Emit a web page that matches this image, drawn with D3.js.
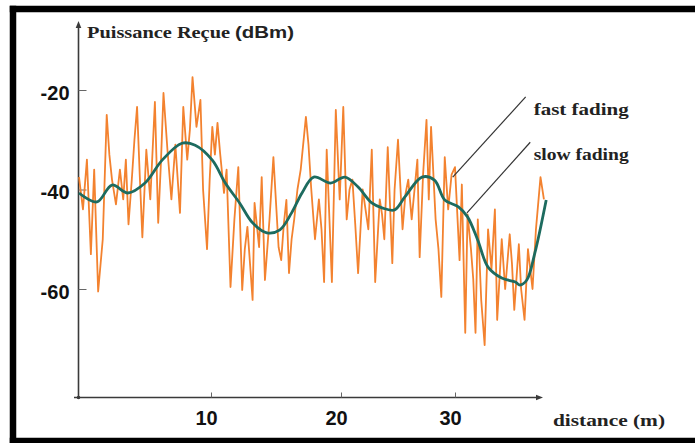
<!DOCTYPE html>
<html>
<head>
<meta charset="utf-8">
<script src="https://cdn.jsdelivr.net/npm/d3@7"></script>
<style>
  body { margin: 0; background: #fff; overflow: hidden; }
  svg { display: block; }
</style>
</head>
<body>
<div id="chart"></div>
<script>
// distance (m) and received power (dBm)
var fastDist = [0,0.3,0.6,0.9,1.15,1.45,1.8,2.1,2.3,2.5,2.8,3.1,3.35,3.55,3.75,4.0,4.2,4.4,4.6,4.8,5.1,5.4,5.75,6.0,6.2,6.4,6.7,7.0,7.3,7.65,7.9,8.2,8.4,8.6,8.9,9.2,9.4,9.7,9.9,
  10.1,10.3,10.5,10.7,11.0,11.2,11.5,11.8,12.1,12.4,12.6,12.8,13.2,13.35,13.7,13.9,14.15,14.5,14.8,15.2,15.4,15.6,15.8,16.0,16.2,16.4,16.65,16.9,17.3,17.5,17.7,18.0,18.3,18.5,18.7,18.9,19.3,19.6,19.9,
  20.2,20.5,20.75,21.0,21.25,21.5,21.9,22.15,22.4,22.7,23.0,23.4,23.6,23.8,24.1,24.5,24.7,25.0,25.4,25.65,25.9,26.2,26.45,26.7,26.9,27.2,27.5,27.7,27.9,28.3,28.55,28.8,29.1,29.4,29.7,
  30.0,30.4,30.6,30.9,31.1,31.4,31.6,31.8,32.0,32.3,32.6,32.9,33.2,33.5,33.7,34.1,34.4,34.8,35.0,35.2,35.6,35.8,36.1,36.4,36.8,37.1,37.5,37.8];
var fastDbm = [-37.5,-44,-34,-53,-36,-60.5,-50,-25,-33,-38,-43,-36,-42,-34,-47,-38,-30,-23.4,-37,-49.6,-32,-42,-22.4,-46.7,-35,-20.6,-32,-42,-31,-44.7,-23.4,-34,-28,-17.4,-27.4,-22,-40,-52,-38,
  -27.4,-33,-26.6,-32.7,-40.7,-36,-59.6,-46,-35.5,-60.2,-52,-47.5,-62.2,-42.7,-51.6,-37.5,-58.2,-46,-33.5,-51.6,-54.2,-47,-42.1,-56.8,-50,-46,-40,-36,-25.4,-31,-39.5,-50,-42,-48,-58.6,-32,-58.6,-24,-42,
  -23.4,-46,-40,-38,-47,-56.8,-40,-44,-48,-32,-58.6,-42,-45,-50,-31.5,-54.8,-40,-30,-48,-41,-38,-46,-40,-34,-53.6,-37,-26,-42,-27.4,-46,-52,-61.6,-33.5,-44,-37,
  -35.5,-54.2,-39,-68.8,-45,-52,-58,-68.8,-46,-62.2,-71.3,-48,-56,-44,-66.2,-50,-60,-49,-55,-64.2,-51,-60,-66.2,-52,-60,-48,-37.5,-42];

var slowDist = [0,1.36,2.5,3.7,5.0,6.3,7.8,8.8,10.1,11.1,12.2,13.2,14.3,15.3,16.2,17.0,17.9,19.2,20.35,21.5,22.7,23.6,24.7,25.6,27.1,28.2,29.1,30.3,31.1,32.0,32.9,34.1,35.3,35.7,36.3,37.0,38.0];
var slowDbm = [-40.7,-42.5,-39.1,-40.7,-38.7,-34.1,-30.7,-31.1,-34.1,-38.7,-42.7,-46.7,-48.7,-48.1,-44.7,-40.7,-37.5,-38.7,-37.5,-39.5,-42.7,-43.7,-44.1,-41.5,-37.5,-38.1,-42.1,-43.5,-45.5,-50.2,-55.6,-57.8,-58.6,-59.2,-58.2,-52.8,-42.1];

var xTicks = [10, 20, 30];
var yTicks = [-60, -40, -20];

// annotation leaders: label, text anchor, line from / to, all in (dist, dBm)
var notes = [
  {label: "fast fading", text: [36.9, -25.0], from: [36.2, -21.4], to: [29.8, -37.5]},
  {label: "slow fading", text: [36.9, -34.1], from: [36.6, -30.5], to: [31.05, -44.7]}
];

var width = 695, height = 443;

var svg = d3.select("#chart").append("svg")
  .attr("width", width)
  .attr("height", height);

// the picture is slightly uneven along x, so a piecewise scale
var x = d3.scaleLinear()
  .domain([0, 10, 20, 30, 40])
  .range([79, 211, 341, 455, 569]);
var y = d3.scaleLinear()
  .domain([-60, -20])
  .range([289, 90]);

// frame: left, top and bottom only, the right side runs off the picture
function frameLine(x1, y1, x2, y2) {
  svg.append("line")
    .attr("x1", x1).attr("y1", y1)
    .attr("x2", x2).attr("y2", y2)
    .attr("stroke", "#000")
    .attr("stroke-width", 6.5);
}
frameLine(9.75, 9, width, 9);
frameLine(13, 5.75, 13, 444);
frameLine(9.75, 441, width, 441);

var axisColor = "#3a3a3a";
var x0 = 78.5, yBase = 397.5;

// axes lines with their arrow heads
svg.append("line")
  .attr("x1", x0).attr("y1", yBase + 1)
  .attr("x2", x0).attr("y2", 26)
  .attr("stroke", axisColor).attr("stroke-width", 1.6);
svg.append("line")
  .attr("x1", 74).attr("y1", yBase)
  .attr("x2", 537).attr("y2", yBase)
  .attr("stroke", axisColor).attr("stroke-width", 1.6);
svg.append("path")
  .attr("d", "M" + x0 + ",21 L" + (x0 - 2.8) + ",28 L" + (x0 + 2.8) + ",28 Z")
  .attr("fill", axisColor);
svg.append("path")
  .attr("d", "M543," + yBase + " L536," + (yBase - 2.8) + " L536," + (yBase + 2.8) + " Z")
  .attr("fill", axisColor);
svg.append("circle")
  .attr("cx", x0).attr("cy", yBase).attr("r", 1.8)
  .attr("fill", axisColor);

var plain = function(d) { return String(d); };
var yAxis = svg.append("g")
  .attr("transform", "translate(" + x0 + ",0)")
  .call(d3.axisLeft(y).tickValues(yTicks).tickFormat(plain).tickSizeInner(-8).tickSizeOuter(0).tickPadding(9));
var xAxis = svg.append("g")
  .attr("transform", "translate(0," + yBase + ")")
  .call(d3.axisBottom(x).tickValues(xTicks).tickFormat(plain).tickSizeInner(-5).tickSizeOuter(0).tickPadding(13));

[xAxis, yAxis].forEach(function(g) {
  g.select(".domain").remove();
  g.selectAll(".tick line").attr("stroke", "#666").attr("stroke-width", 1);
  g.selectAll(".tick text")
    .attr("fill", "#111")
    .style("font-family", "'Liberation Sans', Arial, sans-serif")
    .style("font-weight", "bold")
    .style("font-size", "20px");
});
xAxis.selectAll(".tick text").attr("dx", -5);
yAxis.selectAll(".tick text").attr("dy", "0.45em");

// fast fading
var fast = fastDist.map(function(d, i) { return [d, fastDbm[i]]; });
svg.append("path")
  .datum(fast)
  .attr("fill", "none")
  .attr("stroke", "#f3822f")
  .attr("stroke-width", 1.8)
  .attr("stroke-linejoin", "round")
  .attr("d", d3.line()
    .x(function(d) { return x(d[0]); })
    .y(function(d) { return y(d[1]); }));

// slow fading
var slow = slowDist.map(function(d, i) { return [d, slowDbm[i]]; });
svg.append("path")
  .datum(slow)
  .attr("fill", "none")
  .attr("stroke", "#1d6b5f")
  .attr("stroke-width", 2.8)
  .attr("stroke-linejoin", "round")
  .attr("d", d3.line()
    .curve(d3.curveCatmullRom.alpha(0.5))
    .x(function(d) { return x(d[0]); })
    .y(function(d) { return y(d[1]); }));

// annotations
notes.forEach(function(n) {
  svg.append("line")
    .attr("x1", x(n.from[0])).attr("y1", y(n.from[1]))
    .attr("x2", x(n.to[0])).attr("y2", y(n.to[1]))
    .attr("stroke", "#333").attr("stroke-width", 1.2);
  svg.append("text")
    .attr("x", x(n.text[0])).attr("y", y(n.text[1]))
    .attr("textLength", 95)
    .attr("lengthAdjust", "spacingAndGlyphs")
    .style("font-family", "'Liberation Serif', 'Times New Roman', serif")
    .style("font-weight", "bold")
    .style("font-size", "16px")
    .attr("fill", "#222")
    .text(n.label);
});

// axis titles
svg.append("text")
  .attr("x", 87).attr("y", 38)
  .attr("textLength", 143)
  .attr("lengthAdjust", "spacingAndGlyphs")
  .style("font-family", "'Liberation Serif', 'Times New Roman', serif")
  .style("font-weight", "bold")
  .style("font-size", "17px")
  .attr("fill", "#222")
  .text("Puissance Reçue");
svg.append("text")
  .attr("x", 235).attr("y", 38)
  .attr("textLength", 59)
  .attr("lengthAdjust", "spacingAndGlyphs")
  .style("font-family", "'Liberation Sans', Arial, sans-serif")
  .style("font-weight", "bold")
  .style("font-size", "17px")
  .attr("fill", "#222")
  .text("(dBm)");
svg.append("text")
  .attr("x", 553).attr("y", 426)
  .attr("textLength", 112)
  .attr("lengthAdjust", "spacingAndGlyphs")
  .style("font-family", "'Liberation Serif', 'Times New Roman', serif")
  .style("font-weight", "bold")
  .style("font-size", "16px")
  .attr("fill", "#222")
  .text("distance  (m)");
</script>
</body>
</html>
